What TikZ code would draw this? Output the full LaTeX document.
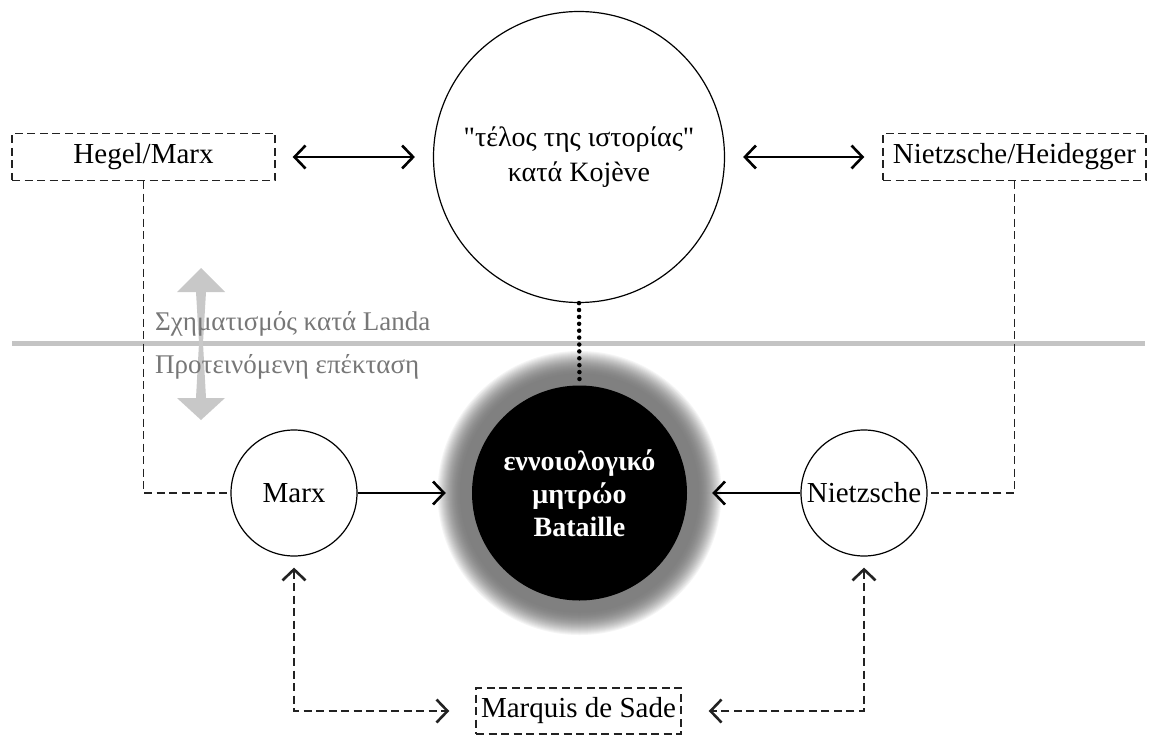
\documentclass[tikz,border=0pt]{standalone}
\usepackage{fontspec}
\newfontfamily\gar{Liberation Serif}
\usetikzlibrary{arrows.meta}
\definecolor{linegray}{HTML}{C4C4C4}
\definecolor{arrowgray}{HTML}{C8C8C8}
\definecolor{textgray}{HTML}{777777}
\definecolor{dashgray}{HTML}{222222}
\begin{document}
\begin{tikzpicture}[x=1pt,y=-1pt,
  font=\gar\fontsize{29}{35}\selectfont,
  >={Straight Barb[length=11pt,width=23pt,line width=2.6pt]},
  circ/.style={circle, draw, line width=1.2pt, inner sep=0pt, fill=white},
  dbox/.style={draw=dashgray, dash pattern=on 8pt off 4.5pt, line width=1.4pt, minimum height=47pt, inner sep=3pt},
  link/.style={line width=1.2pt},
  dlink/.style={line width=1.4pt, draw=dashgray, dash pattern=on 8pt off 4.5pt},
  graytext/.style={text=textgray, inner sep=0pt, anchor=base west, font=\gar\fontsize{27}{32}\selectfont}]
\useasboundingbox (0,0) rectangle (1150,738);
% glow
\foreach \r [evaluate=\r as \c using {50*(1-((\r-117)/26)^2)}] in {143,142,...,117}
  \fill[black!\c] (579.5,493) circle[radius=\r];
% separation line
\draw[linegray, line width=5pt] (12,343) -- (1145,343);
% gray double arrow
\fill[arrowgray] (201,268) -- (225,292) -- (206,292) -- (203,343) -- (206,398) -- (225,398) -- (201,420) -- (177,398) -- (196,398) -- (199,343) -- (196,292) -- (177,292) -- cycle;
\node[graytext] (landa) at (155,330) {Σχηματισμός κατά Landa};
\node[graytext] (ext) at (155,373) {Προτεινόμενη επέκταση};
% nodes
\node[circ, minimum size=291pt, align=center, font=\gar\fontsize{28}{35}\selectfont] (kojeve) at (579,157) {"τέλος της ιστορίας"\\κατά Kojève};
\node[dbox, minimum width=263pt] (hegel) at (143.5,157) {Hegel/Marx};
\node[dbox, minimum width=263pt] (nh) at (1014.5,157) {Nietzsche/Heidegger};
\node[circ, minimum size=126pt] (marx) at (294,493) {Marx};
\node[circ, minimum size=126pt] (nietz) at (864,493) {Nietzsche};
\node[circle, fill=black, minimum size=215pt, inner sep=0pt, text=white, font=\gar\bfseries\fontsize{28}{33}\selectfont, align=center] (bataille) at (579.5,493) {εννοιολογικό\\μητρώο\\Bataille};
\node[dbox, minimum width=205pt, minimum height=46pt] (sade) at (578.5,711) {Marquis de Sade};
% connectors
\draw[link, <->, shorten <=17pt, shorten >=18pt] (hegel) -- (kojeve);
\draw[link, <->, shorten <=18pt, shorten >=18pt] (kojeve) -- (nh);
\draw[link, ->, shorten >=26pt] (marx) -- (bataille);
\draw[link, ->, shorten >=25pt] (nietz) -- (bataille);
\draw[dlink] (hegel.south) |- (marx.west);
\draw[dlink] (nh.south) |- (nietz.east);
\draw[line width=4.5pt, line cap=round, dash pattern=on 0pt off 6.9pt] (kojeve.south) -- (bataille.north);
\draw[dlink, <->, shorten <=11pt, shorten >=26pt] (marx.south) |- (sade.west);
\draw[dlink, <->, shorten <=11pt, shorten >=27pt] (nietz.south) |- (sade.east);
\end{tikzpicture}
\end{document}
